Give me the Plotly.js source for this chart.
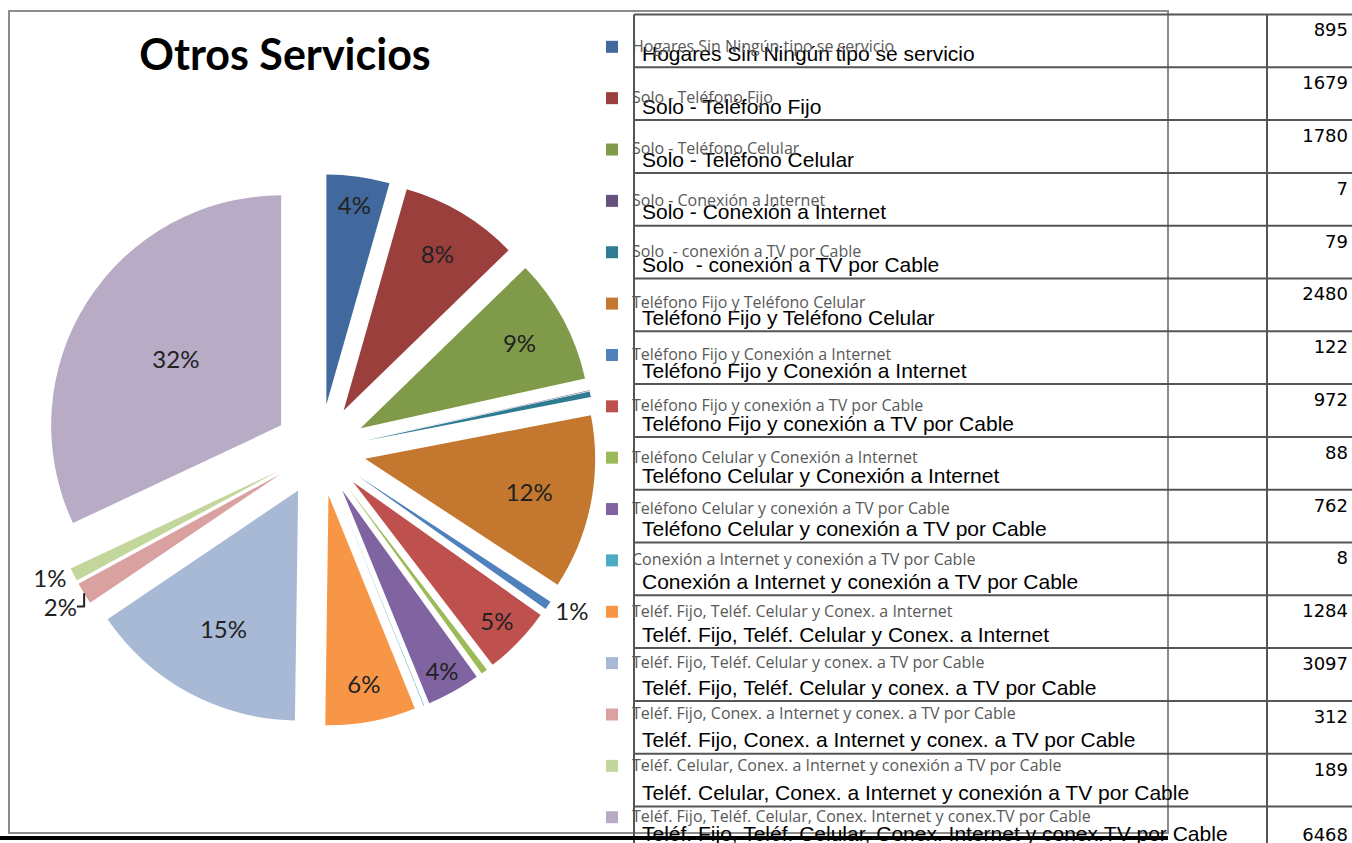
<!DOCTYPE html>
<html>
<head>
<meta charset="utf-8">
<script src="https://cdn.plot.ly/plotly-3.0.1.min.js"></script>
<style>
  html, body { margin: 0; padding: 0; background: #ffffff; }
  #chart { width: 1352px; height: 843px; }
</style>
</head>
<body>
<div id="chart"></div>
<script>
// ---- Data ----
const categorias = [
  "Hogares Sin Ningún tipo se servicio",
  "Solo - Teléfono Fijo",
  "Solo - Teléfono Celular",
  "Solo - Conexión a Internet",
  "Solo  - conexión a TV por Cable",
  "Teléfono Fijo y Teléfono Celular",
  "Teléfono Fijo y Conexión a Internet",
  "Teléfono Fijo y conexión a TV por Cable",
  "Teléfono Celular y Conexión a Internet",
  "Teléfono Celular y conexión a TV por Cable",
  "Conexión a Internet y conexión a TV por Cable",
  "Teléf. Fijo, Teléf. Celular y Conex. a Internet",
  "Teléf. Fijo, Teléf. Celular y conex. a TV por Cable",
  "Teléf. Fijo, Conex. a Internet y conex. a TV por Cable",
  "Teléf. Celular, Conex. a Internet y conexión a TV por Cable",
  "Teléf. Fijo, Teléf. Celular, Conex. Internet y conex.TV por Cable"
];
const hogares = [895, 1679, 1780, 7, 79, 2480, 122, 972, 88, 762, 8, 1284, 3097, 312, 189, 6468];
const tituloGrafico = "Otros Servicios";

// ---- Styles ----
const colores = [
  "#41699E", "#9B3F3D", "#7F9A48", "#65507F", "#2F7C92", "#C3772F",
  "#4F81BD", "#BE504D", "#9BBB59", "#8064A2", "#4BACC6", "#F79646",
  "#A8B9D6", "#D9A2A1", "#C3D69B", "#B7ABC6"
];
// which slices carry a percentage label and where
const posTexto = ["inside","inside","inside","none","none","inside","outside","inside",
                  "none","inside","none","inside","inside","outside","outside","inside"];

const W = 1352, H = 843;
const py = p => 1 - p / H;          // pixel row -> paper y
const rowTop = 14.5, rowH = 52.8;   // spreadsheet grid geometry
const nRows = categorias.length;
const yVisibleBottom = (836 - rowTop) / rowH;   // last (cut) row text sits at the window edge

const pie = {
  type: "pie",
  labels: categorias.map(c => " <br> <br><span style='font-size:16px'>" + c + "</span>"),
  values: hogares,
  sort: false,
  direction: "clockwise",
  rotation: 0,
  pull: hogares.map(() => 0.2),
  marker: { colors: colores, line: { width: 0 } },
  texttemplate: posTexto.map(p => p === "none" ? "" : "%{percent:.0%}"),
  textposition: posTexto,
  insidetextorientation: "horizontal",
  textfont: { family: "Lato, 'Open Sans', sans-serif", size: 24, color: "#222222" },
  hovertemplate: "%{value}<extra></extra>",
  domain: { x: [44 / W, 596 / W], y: [py(726), py(174)] },
  showlegend: true
};

const etiquetasTabla = {
  type: "scatter",
  mode: "text",
  x: categorias.map(() => 642),
  y: categorias.map((c, i) => i === nRows - 1 ? yVisibleBottom : i + 0.78),
  text: categorias,
  textposition: "middle right",
  textfont: { family: "'Liberation Sans', Arial, sans-serif", size: 21, color: "#000000" },
  cliponaxis: false,
  hoverinfo: "skip",
  showlegend: false
};

const numerosTabla = {
  type: "scatter",
  mode: "text",
  x: hogares.map(() => 1348),
  y: hogares.map((v, i) => i === nRows - 1 ? yVisibleBottom : i + 0.33),
  text: hogares.map(v => String(v)),
  textposition: "middle left",
  textfont: { family: "'DejaVu Sans', Verdana, sans-serif", size: 18, color: "#000000" },
  cliponaxis: false,
  hoverinfo: "skip",
  showlegend: false
};

const shapes = [];
// chart frame
shapes.push({ type: "rect", xref: "x", yref: "paper", x0: 9, x1: 1168, y0: py(833), y1: py(11),
  line: { color: "#8c8c8c", width: 2 }, fillcolor: "rgba(0,0,0,0)", layer: "below" });
// spreadsheet horizontal grid lines
for (let k = 0; k <= nRows; k++) {
  shapes.push({ type: "line", xref: "x", yref: "y", x0: 634, x1: 1352, y0: k, y1: k,
    line: { color: "#555555", width: 2 }, layer: "above" });
}
// spreadsheet vertical grid lines
[634, 1267].forEach(x => {
  shapes.push({ type: "line", xref: "x", yref: "y", x0: x, x1: x, y0: 0, y1: nRows + 1,
    line: { color: "#555555", width: 2 }, layer: "above" });
});
// heavy black bottom line
shapes.push({ type: "line", xref: "x", yref: "paper", x0: 0, x1: 1168, y0: py(838), y1: py(838),
  line: { color: "#000000", width: 4 }, layer: "above" });

const layout = {
  width: W, height: H,
  margin: { l: 0, r: 0, t: 0, b: 0, pad: 0 },
  paper_bgcolor: "#ffffff",
  plot_bgcolor: "rgba(0,0,0,0)",
  title: {
    text: "<b>" + tituloGrafico + "</b>",
    font: { family: "Lato, 'Open Sans', sans-serif", size: 43, color: "#000000" },
    x: 285 / W, xanchor: "center", xref: "paper",
    y: py(55), yanchor: "middle", yref: "paper"
  },
  xaxis: { range: [0, W], visible: false, fixedrange: true },
  yaxis: { range: [(H - rowTop) / rowH, -rowTop / rowH], visible: false, fixedrange: true },
  showlegend: true,
  legend: {
    x: 592 / W, xanchor: "left", y: 1, yanchor: "top",
    valign: "bottom",
    bgcolor: "rgba(0,0,0,0)", borderwidth: 0,
    font: { family: "'Open Sans', sans-serif", size: 12.4, color: "#595959" },
    traceorder: "normal"
  },
  shapes: shapes
};

Plotly.newPlot("chart", [etiquetasTabla, numerosTabla, pie], layout, { displayModeBar: false, staticPlot: true });
</script>
</body>
</html>
